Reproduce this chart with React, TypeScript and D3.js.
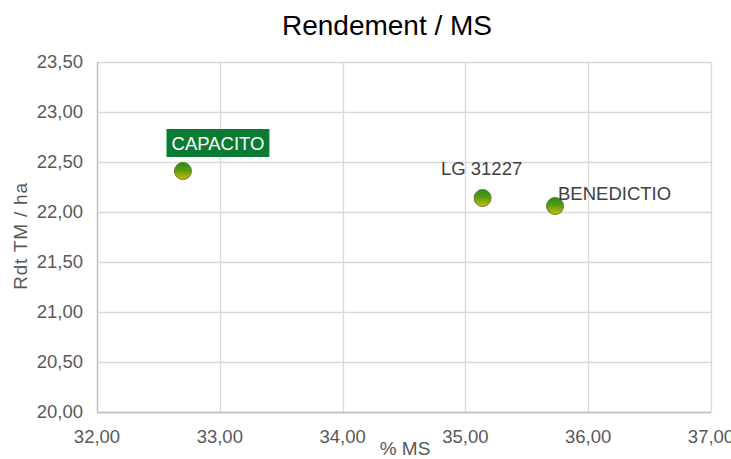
import React, { useRef, useEffect } from "react";
import * as d3 from "d3";

// Data
const varieties = ["CAPACITO", "LG 31227", "BENEDICTIO"];
const msValues = [32.7, 35.14, 35.73];
const rdtValues = [22.41, 22.14, 22.06];
const xTicks = [32, 33, 34, 35, 36, 37];
const yTicks = [20, 20.5, 21, 21.5, 22, 22.5, 23, 23.5];

const W = 731;
const H = 459;

const App: React.FC = () => {
  const ref = useRef<SVGSVGElement | null>(null);

  useEffect(() => {
    if (!ref.current) return;
    const svg = d3.select(ref.current);
    svg.selectAll("*").remove();

    const margin = { top: 62, right: 20, bottom: 47, left: 97 };
    const x = d3.scaleLinear().domain([32, 37]).range([margin.left, W - margin.right]);
    const y = d3.scaleLinear().domain([20, 23.5]).range([H - margin.bottom, margin.top]);
    const fmt = (v: number) => v.toFixed(2).replace(".", ",");
    const font = "'Liberation Sans', Arial, sans-serif";

    // gradient for markers
    const defs = svg.append("defs");
    const grad = defs
      .append("linearGradient")
      .attr("id", "dotGrad")
      .attr("x1", 0)
      .attr("y1", 0)
      .attr("x2", 0)
      .attr("y2", 1);
    grad.append("stop").attr("offset", "0%").attr("stop-color", "#2a8a1c");
    grad.append("stop").attr("offset", "45%").attr("stop-color", "#559c12");
    grad.append("stop").attr("offset", "100%").attr("stop-color", "#d8b800");

    // Title
    svg
      .append("text")
      .attr("x", 387)
      .attr("y", 35)
      .attr("text-anchor", "middle")
      .attr("font-family", font)
      .attr("font-size", 28)
      .attr("fill", "#000")
      .text("Rendement / MS");

    // gridlines
    const grid = svg.append("g").attr("stroke", "#d9d9d9").attr("stroke-width", 1.3);
    grid
      .selectAll("line.v")
      .data(xTicks)
      .join("line")
      .attr("x1", (d) => Math.round(x(d)) + 0.5)
      .attr("x2", (d) => Math.round(x(d)) + 0.5)
      .attr("y1", y(23.5))
      .attr("y2", y(20));
    grid
      .selectAll("line.h")
      .data(yTicks)
      .join("line")
      .attr("y1", (d) => Math.round(y(d)) + 0.5)
      .attr("y2", (d) => Math.round(y(d)) + 0.5)
      .attr("x1", x(32))
      .attr("x2", x(37));

    // axes lines
    svg
      .append("line")
      .attr("x1", x(32))
      .attr("x2", x(37))
      .attr("y1", Math.round(y(20)) + 0.5)
      .attr("y2", Math.round(y(20)) + 0.5)
      .attr("stroke", "#bfbfbf")
      .attr("stroke-width", 1.3);
    svg
      .append("line")
      .attr("x1", Math.round(x(32)) + 0.5)
      .attr("x2", Math.round(x(32)) + 0.5)
      .attr("y1", y(23.5))
      .attr("y2", y(20))
      .attr("stroke", "#bfbfbf")
      .attr("stroke-width", 1.3);

    // tick labels
    svg
      .append("g")
      .selectAll("text")
      .data(xTicks)
      .join("text")
      .attr("x", (d) => x(d))
      .attr("y", 443)
      .attr("text-anchor", "middle")
      .attr("font-family", font)
      .attr("font-size", 18.5)
      .attr("fill", "#595959")
      .text((d) => fmt(d));
    svg
      .append("g")
      .selectAll("text")
      .data(yTicks)
      .join("text")
      .attr("x", 83)
      .attr("y", (d) => y(d) + 6)
      .attr("text-anchor", "end")
      .attr("font-family", font)
      .attr("font-size", 18.5)
      .attr("fill", "#595959")
      .text((d) => fmt(d));

    // axis titles
    svg
      .append("text")
      .attr("x", 405)
      .attr("y", 455)
      .attr("text-anchor", "middle")
      .attr("font-family", font)
      .attr("font-size", 19)
      .attr("fill", "#595959")
      .text("% MS");
    svg
      .append("text")
      .attr("transform", "translate(27,236) rotate(-90)")
      .attr("text-anchor", "middle")
      .attr("font-family", font)
      .attr("font-size", 19)
      .attr("letter-spacing", 0.8)
      .attr("fill", "#595959")
      .text("Rdt TM / ha");

    // points
    const pts = varieties.map((v, i) => ({ name: v, ms: msValues[i], rdt: rdtValues[i] }));
    svg
      .append("g")
      .selectAll("circle")
      .data(pts)
      .join("circle")
      .attr("cx", (d) => x(d.ms))
      .attr("cy", (d) => y(d.rdt))
      .attr("r", 8.5)
      .attr("fill", "url(#dotGrad)")
      .attr("stroke", "#5f7f2a")
      .attr("stroke-width", 1);

    // labels
    const cap = pts[0];
    const capG = svg.append("g");
    const capText = capG
      .append("text")
      .attr("x", x(cap.ms) + 35)
      .attr("y", y(cap.rdt) - 21)
      .attr("text-anchor", "middle")
      .attr("font-family", font)
      .attr("font-size", 18.5)
      .attr("fill", "#fff")
      .text(cap.name);
    const bb = (capText.node() as SVGTextElement).getBBox();
    capG
      .insert("rect", "text")
      .attr("x", bb.x - 5)
      .attr("y", 129)
      .attr("width", bb.width + 10)
      .attr("height", 28)
      .attr("fill", "#0b7a32");

    const lg = pts[1];
    svg
      .append("text")
      .attr("x", x(lg.ms) - 1)
      .attr("y", y(lg.rdt) - 23)
      .attr("text-anchor", "middle")
      .attr("font-family", font)
      .attr("font-size", 18.5)
      .attr("fill", "#404040")
      .text(lg.name);

    const be = pts[2];
    svg
      .append("text")
      .attr("x", x(be.ms) + 3)
      .attr("y", y(be.rdt) - 6)
      .attr("text-anchor", "start")
      .attr("font-family", font)
      .attr("font-size", 18.5)
      .attr("fill", "#404040")
      .text(be.name);
  }, []);

  return (
    <svg
      ref={ref}
      width={W}
      height={H}
      style={{ position: "absolute", left: 0, top: 0, background: "#fff" }}
    />
  );
};

export default App;
